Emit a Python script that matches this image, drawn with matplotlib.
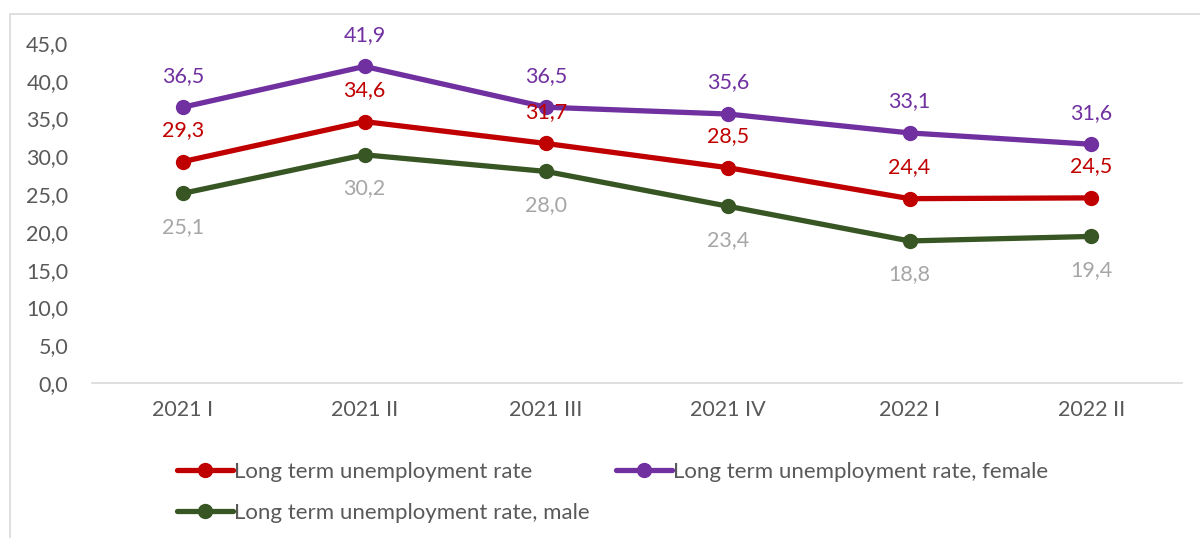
import matplotlib
matplotlib.use("Agg")
import matplotlib.pyplot as plt
from matplotlib.patches import Rectangle

categories = ["2021 I", "2021 II", "2021 III", "2021 IV", "2022 I", "2022 II"]
total = [29.3, 34.6, 31.7, 28.5, 24.4, 24.5]
female = [36.5, 41.9, 36.5, 35.6, 33.1, 31.6]
male = [25.1, 30.2, 28.0, 23.4, 18.8, 19.4]
yticks = [0, 5, 10, 15, 20, 25, 30, 35, 40, 45]

plt.rcParams['font.family'] = ['Lato', 'DejaVu Sans']

fig = plt.figure(figsize=(12, 5.38), dpi=100)
ax = fig.add_axes([92/1200, 1-383/538, (1182-92)/1200, (383-43)/538])

fig.patches.append(Rectangle((10/1200, -0.1), 1.2, 1.1 - 14/538,
                             transform=fig.transFigure, fill=False,
                             edgecolor='#d9d9d9', linewidth=1.2))

x = list(range(len(categories)))
red, purple, green = '#C00000', '#7030A0', '#375623'
lw, ms = 3.8, 10
l1, = ax.plot(x, total, color=red, lw=lw, marker='o', ms=ms, solid_capstyle='round',
              label='Long term unemployment rate')
l2, = ax.plot(x, female, color=purple, lw=lw, marker='o', ms=ms, solid_capstyle='round',
              label='Long term unemployment rate, female')
l3, = ax.plot(x, male, color=green, lw=lw, marker='o', ms=ms, solid_capstyle='round',
              label='Long term unemployment rate, male')

fs = 15.5
def fmt(v):
    return f"{v:.1f}".replace('.', ',')
for xi, v in zip(x, total):
    ax.annotate(fmt(v), (xi, v), xytext=(0, 15.5), textcoords='offset points',
                ha='center', va='bottom', color=red, fontsize=fs)
for xi, v in zip(x, female):
    ax.annotate(fmt(v), (xi, v), xytext=(0, 15.5), textcoords='offset points',
                ha='center', va='bottom', color=purple, fontsize=fs)
for xi, v in zip(x, male):
    ax.annotate(fmt(v), (xi, v), xytext=(0, -17), textcoords='offset points',
                ha='center', va='top', color='#a6a6a6', fontsize=fs)

ax.set_xlim(-0.5, len(categories) - 0.5)
ax.set_ylim(0, 45)
ax.set_yticks(yticks)
ax.set_yticklabels([fmt(t) for t in yticks])
ax.set_xticks(x)
ax.set_xticklabels(categories)
ax.tick_params(axis='both', length=0, labelsize=fs, labelcolor='#595959')
ax.tick_params(axis='y', pad=17)
ax.tick_params(axis='x', pad=12)
for s in ['top', 'right', 'left']:
    ax.spines[s].set_visible(False)
ax.spines['bottom'].set_color('#d9d9d9')
ax.spines['bottom'].set_linewidth(1.2)

leg = fig.legend(handles=[l1, l3, l2], ncol=2, loc='upper left',
                 bbox_to_anchor=(157/1200, 1-442/538), frameon=False,
                 fontsize=16, handlelength=2.5, handletextpad=0.05,
                 columnspacing=1.2, labelspacing=0.95, labelcolor='#595959')

fig.savefig('out.png', dpi=100)
